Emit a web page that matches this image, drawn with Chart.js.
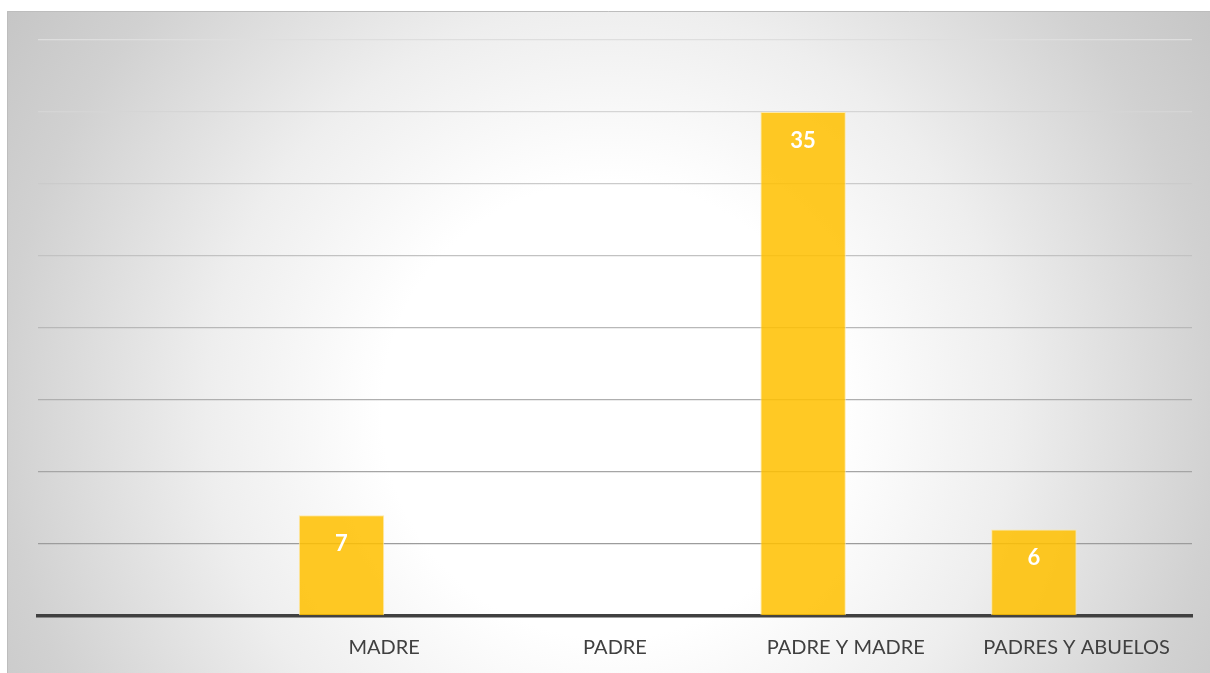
<!DOCTYPE html>
<html>
<head>
<meta charset="utf-8">
<script src="https://cdn.jsdelivr.net/npm/chart.js@4"></script>
<style>
  html, body { margin:0; padding:0; background:#fff; }
  #wrap { width:1210px; height:673px; }
</style>
</head>
<body>
<div id="wrap"><canvas id="c" width="1210" height="673"></canvas></div>
<script>
/* values */
const categories = ['', 'MADRE', 'PADRE', 'PADRE Y MADRE', 'PADRES Y ABUELOS'];
const serie1 = [null, 7, null, 35, 6];
const serie2 = [null, null, null, null, null];
const yMin = 0, yMax = 40, yStep = 5;

const bgPlugin = {
  id: 'bg',
  beforeDraw(chart){
    const ctx = chart.ctx;
    ctx.save();
    ctx.fillStyle = '#ffffff';
    ctx.fillRect(0, 0, chart.width, chart.height);
    const g = ctx.createRadialGradient(610, 410, 0, 610, 410, 760);
    g.addColorStop(0, '#ffffff');
    g.addColorStop(0.3, '#ffffff');
    g.addColorStop(0.53, '#eeeeee');
    g.addColorStop(0.8, '#d1d1d1');
    g.addColorStop(1, '#c2c2c2');
    ctx.fillStyle = g;
    ctx.fillRect(7, 11, chart.width - 7, chart.height - 11);
    ctx.strokeStyle = '#bdbdbd';
    ctx.lineWidth = 1;
    ctx.beginPath();
    ctx.moveTo(7.5, chart.height);
    ctx.lineTo(7.5, 11.5);
    ctx.lineTo(chart.width, 11.5);
    ctx.stroke();
    ctx.restore();
  }
};

const labelPlugin = {
  id: 'barLabels',
  afterDatasetsDraw(chart){
    const ctx = chart.ctx;
    const meta = chart.getDatasetMeta(0);
    ctx.save();
    ctx.fillStyle = '#ffffff';
    ctx.font = 'bold 22px Lato, "Open Sans", sans-serif';
    ctx.textAlign = 'center';
    ctx.textBaseline = 'middle';
    meta.data.forEach((bar, i) => {
      const v = serie1[i];
      if(v == null) return;
      ctx.fillText(String(v), bar.x, bar.y + 28.5);
    });
    ctx.restore();
  }
};

function gridColor(ctx){
  const v = ctx.tick ? ctx.tick.value : 0;
  if(v <= 0) return 'rgba(0,0,0,0)';
  const t = (v - 5) / 35;              // 0 at bottom line, 1 at top line
  const c = Math.round(0x9c + t * (0xde - 0x9c));
  return `rgb(${c},${c},${c})`;
}

new Chart(document.getElementById('c'), {
  type: 'bar',
  data: {
    labels: categories,
    datasets: [
      {
        label: 'Serie 1',
        data: serie1,
        backgroundColor: 'rgba(255,192,0,0.86)',
        borderColor: 'rgba(255,232,160,0.9)',
        borderWidth: 1,
        categoryPercentage: 0.74,
        barPercentage: 1
      },
      {
        label: 'Serie 2',
        data: serie2,
        backgroundColor: 'rgba(165,165,165,0.85)',
        categoryPercentage: 0.74,
        barPercentage: 1
      }
    ]
  },
  options: {
    responsive: false,
    animation: false,
    layout: { padding: { left: 38, right: 18, top: 40, bottom: 0 } },
    scales: {
      x: {
        grid: { display: false, drawTicks: false },
        border: { display: true, color: '#404040', width: 3.5 },
        ticks: { color: '#404040', padding: 20, maxRotation: 0, autoSkip: false,
                 font: { family: 'Lato, "Open Sans", sans-serif', size: 20 } },
        afterFit: (s) => { s.height = 57; }
      },
      y: {
        min: yMin, max: yMax,
        ticks: { display: false, stepSize: yStep },
        grid: { color: gridColor, lineWidth: 1.3, drawTicks: false },
        border: { display: false },
        afterFit: (s) => { s.width = 0; }
      }
    },
    plugins: {
      legend: { display: false },
      tooltip: { enabled: false }
    }
  },
  plugins: [bgPlugin, labelPlugin]
});
</script>
</body>
</html>
